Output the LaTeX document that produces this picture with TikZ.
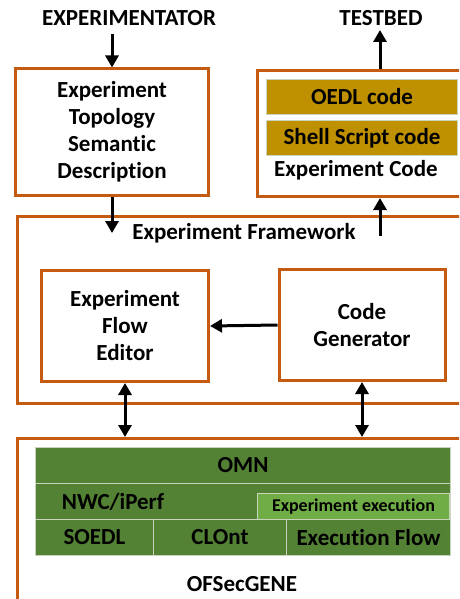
\documentclass[tikz,border=0pt]{standalone}
\usepackage{fontspec}
\setmainfont{Carlito}[RawFeature={-liga;-clig;-calt;-dlig}]
\usepackage{tikz}
\usetikzlibrary{arrows.meta}

\definecolor{boxorange}{RGB}{197,90,17}
\definecolor{omngreen}{RGB}{84,130,53}
\definecolor{execgreen}{RGB}{112,173,71}
\definecolor{codegold}{RGB}{191,144,0}
\definecolor{cellline}{RGB}{200,212,190}

\begin{document}
\begin{tikzpicture}[x=1pt,y=-1pt,
	txt/.style={font=\bfseries\fontsize{23}{27}\selectfont, align=center, inner sep=0pt},
	obox/.style={draw=boxorange, line width=3pt, fill=white, inner sep=0pt},
	cell/.style={draw=cellline, line width=1pt, fill=omngreen, inner sep=0pt, anchor=north west, txt},
	goldcell/.style={cell, fill=codegold},
	execcell/.style={cell, fill=execgreen, font=\bfseries\fontsize{18}{20}\selectfont},
	arr/.style={-{Triangle[length=12pt,width=13pt]}, line width=3pt},
	darr/.style={{Triangle[length=12pt,width=13pt]}-{Triangle[length=12pt,width=13pt]}, line width=3pt}]
			\useasboundingbox (0,0) rectangle (459,599);
			\clip (0,0) rectangle (459,599);

			% 上方标签
			\node[txt] (expr) at (129,18) {EXPERIMENTATOR};
			\node[txt] (testbed) at (381,18) {TESTBED};

			% 拓扑描述与实验代码
			\node[obox, txt, minimum width=193, minimum height=126] (topo) at (112,132)
				{Experiment\\Topology\\Seman{}tic\\Descrip{}tion};
			\node[obox, anchor=north west, minimum width=220, minimum height=126] (code) at (256,69) {};
			\node[goldcell, minimum width=191, minimum height=35] (oedl) at (266,79) {OEDL code};
			\node[goldcell, minimum width=191, minimum height=35] (shell) at (266,120) {Shell Script code};
			\node[txt] (codetitle) at (356,170) {Experiment Code};

			% 实验框架
			\node[obox, anchor=north west, minimum width=460, minimum height=187] (frame) at (16,215) {};
			\node[txt] (frametitle) at (244,233) {Experiment Framework};
			\node[obox, txt, minimum width=167, minimum height=111] (editor) at (125,326)
				{Experiment\\Flow\\Editor};
			\node[obox, txt, minimum width=166, minimum height=111] (gen) at (362,325)
				{Code\\Generator};

			% OFSecGENE
			\node[obox, anchor=north west, minimum width=460, minimum height=180] (ofsecbox) at (16,437) {};
			\node[cell, minimum width=415, minimum height=36] (omn) at (35,447) {OMN};
			\node[cell, minimum width=415, minimum height=36] (nwcrow) at (35,483) {};
			\node[txt] (nwc) at (113,502) {NWC/iPerf};
			\node[execcell, minimum width=192, minimum height=26] (execnode) at (257,493) {Experiment execu{}tion};
			\node[cell, minimum width=118, minimum height=36] (soedl) at (35,519) {SOEDL};
			\node[cell, minimum width=133, minimum height=36] (clont) at (153,519) {CLOnt};
			\node[cell, minimum width=164, minimum height=36] (flow) at (286,519) {Execu{}tion Flow};
			\node[txt] (ofsec) at (242,584) {OFSecGENE};

			% 箭头
			\coordinate (exprend) at (112,34);
			\coordinate (tbend) at (380,30);
			\coordinate (topoin) at (112,233);
			\coordinate (codeout) at (380,236);
			\draw[arr] (exprend) -- (topo.north);
			\draw[arr] (tbend |- code.north) -- (tbend);
			\draw[arr] (topo.south) -- (topoin);
			\draw[arr] (codeout) -- (codeout |- code.south);
			\draw[arr] (gen.west) -- (editor.east);
			\draw[darr] (editor.south) -- (editor.south |- ofsecbox.north);
			\draw[darr] (gen.south) -- (gen.south |- ofsecbox.north);
		\end{tikzpicture}
\end{document}
